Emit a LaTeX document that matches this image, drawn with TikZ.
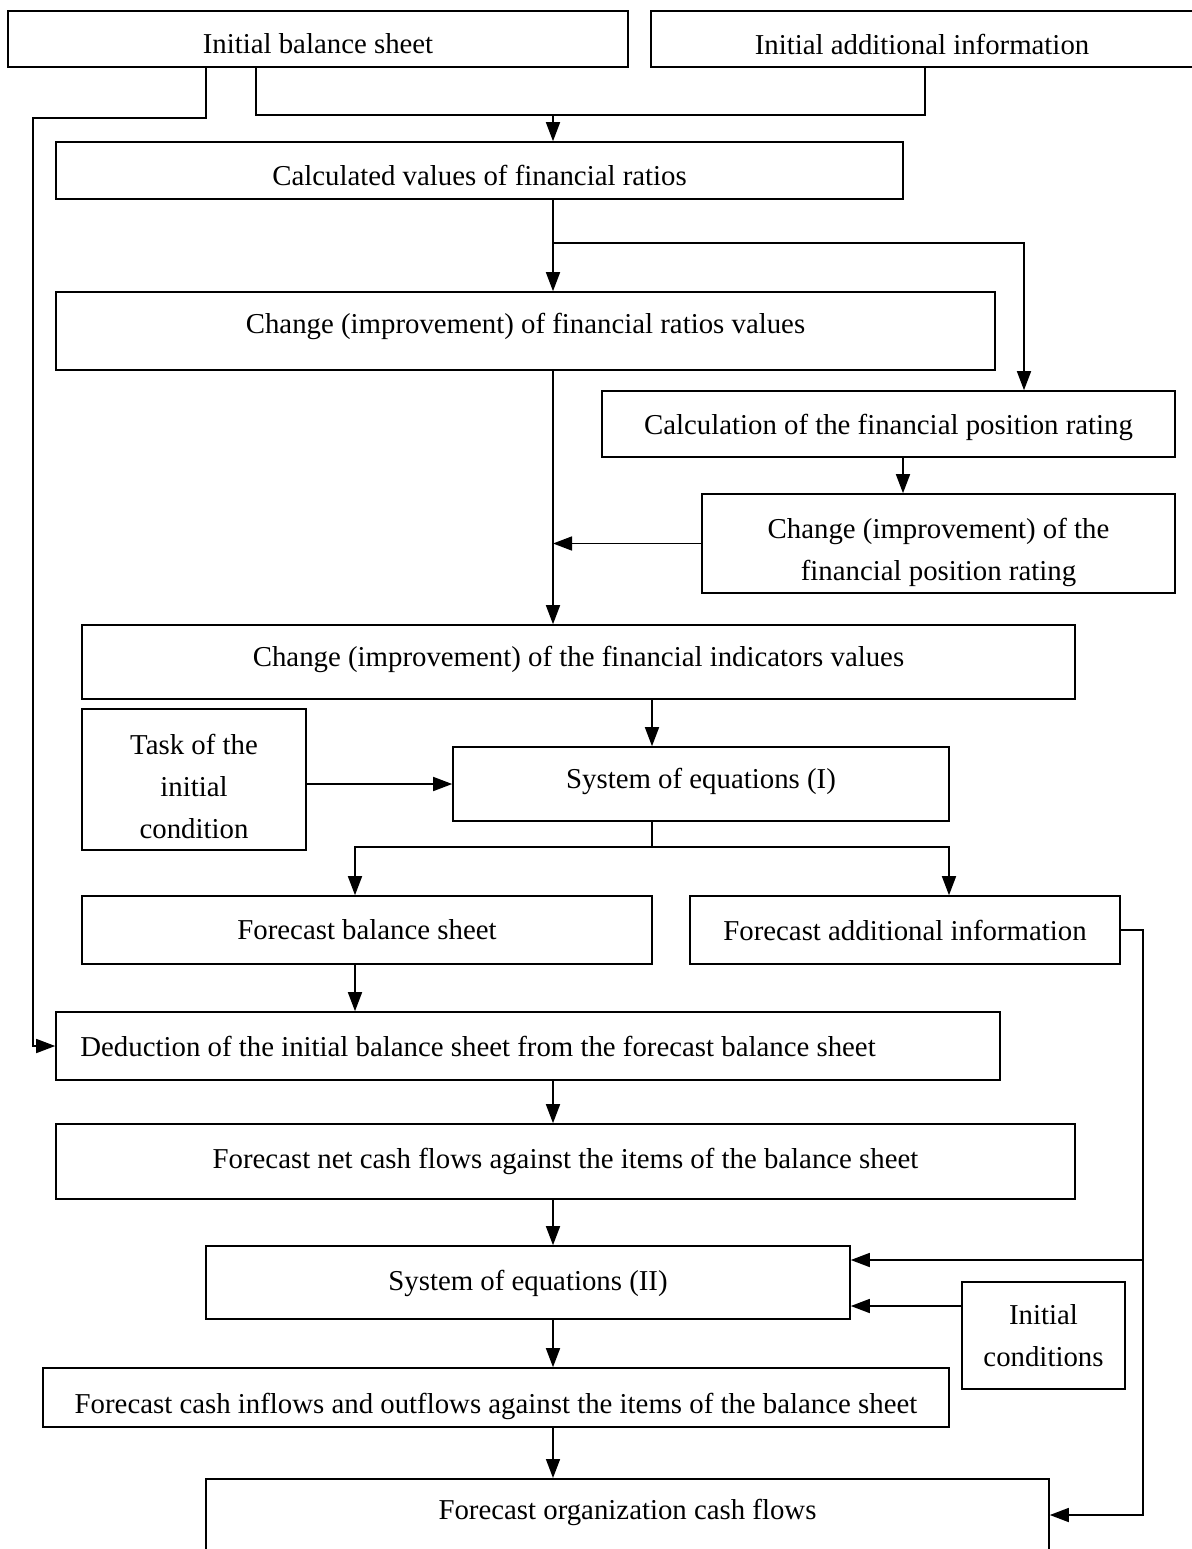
\documentclass[tikz,border=0pt]{standalone}
\usepackage{fontspec}
\setmainfont{Liberation Serif}
\usepackage{tikz}
\usetikzlibrary{arrows.meta}
\tikzset{
box/.style 2 args={draw, rectangle, inner sep=0pt, minimum width=#1*0.02cm, minimum height=#2*0.02cm},
txt/.style={align=center, inner sep=0pt},
>={Triangle[length=0.38cm, width=0.28cm]}
}

\begin{document}
\begin{tikzpicture}[x=0.02cm, y=-0.02cm, line width=0.9pt, font=\fontsize{16.4}{24}\selectfont]
\useasboundingbox (0,0) rectangle (1192,1549);

\node[box={620}{56}, label={[txt, yshift=-0.1cm]center:Initial balance sheet}] (ibs) at (318,39) {};
\node[box={542}{56}, label={[txt, yshift=-0.1cm]center:Initial additional information}] (iai) at (922,39) {};
\node[box={847}{57}, label={[txt, yshift=-0.1cm]center:Calculated values of financial ratios}] (calc) at (479.5,170.5) {};
\node[box={939}{78}, label={[txt, yshift=0.1cm]center:Change (improvement) of financial ratios values}] (chr) at (525.5,331) {};
\node[box={573}{66}, label={[txt, yshift=-0.06cm]center:Calculation of the financial position rating}] (rat) at (888.5,424) {};
\node[box={473}{99}, label={[txt, yshift=-0.18cm]center:Change (improvement) of the\\financial position rating}] (chrat) at (938.5,543.5) {};
\node[box={993}{74}, label={[txt, yshift=0.06cm]center:Change (improvement) of the financial indicators values}] (chi) at (578.5,662) {};
\node[box={224}{141}, label={[txt, yshift=-0.14cm]center:Task of the\\initial\\condition}] (task) at (194,779.5) {};
\node[box={496}{74}, label={[txt, yshift=0.06cm]center:System of equations (I)}] (sys1) at (701,784) {};
\node[box={570}{68}, label={[txt]center:Forecast balance sheet}] (fbs) at (367,930) {};
\node[box={430}{68}, label={[txt]center:Forecast additional information}] (fai) at (905,930) {};
\node[box={944}{68}, label={[txt, xshift=-1cm]center:Deduction of the initial balance sheet from the forecast balance sheet}] (ded) at (528,1046) {};
\node[box={1019}{75}, label={[txt]center:Forecast net cash flows against the items of the balance sheet}] (net) at (565.5,1161.5) {};
\node[box={644}{73}, label={[txt, yshift=-0.02cm]center:System of equations (II)}] (sys2) at (528,1282.5) {};
\node[box={163}{107}, label={[txt]center:Initial\\conditions}] (inc) at (1043.5,1335.5) {};
\node[box={906}{59}, label={[txt, yshift=-0.18cm]center:Forecast cash inflows and outflows against the items of the balance sheet}] (infl) at (496,1397.5) {};
\node[draw, inner sep=0pt, minimum width=843*0.02cm, text height=0.82cm, text depth=1.5cm, anchor=north] (org) at (627.5,1478) {Forecast organization cash flows};

\coordinate (j1) at (553,115);
\coordinate (j2) at (553,243);
\coordinate (j3) at (652,847);
\coordinate (j4) at (1143,1260);

\draw[->] (206,0 |- ibs.south) |- (33,118) |- (ded.west);
\draw (256,0 |- ibs.south) |- (925,115) -- (925,0 |- iai.south);
\draw[->] (j1) -- (553,0 |- calc.north);
\draw[->] (553,0 |- calc.south) -- (553,0 |- chr.north);
\draw[->] (j2) -| (1024,0 |- rat.north);
\draw[->] (553,0 |- chr.south) -- (553,0 |- chi.north);
\draw[->] (903,0 |- rat.south) -- (903,0 |- chrat.north);
\draw[->] (chrat.west) -- (553,0 |- chrat.west);
\draw[->] (652,0 |- chi.south) -- (652,0 |- sys1.north);
\draw[->] (task.east |- sys1.west) -- (sys1.west);
\draw (652,0 |- sys1.south) -- (j3);
\draw[->] (j3) -| (355,0 |- fbs.north);
\draw[->] (j3) -| (949,0 |- fai.north);
\draw[->] (355,0 |- fbs.south) -- (355,0 |- ded.north);
\draw[->] (553,0 |- ded.south) -- (553,0 |- net.north);
\draw[->] (553,0 |- net.south) -- (553,0 |- sys2.north);
\draw[->] (fai.east) -| (1143,1515) -- (org.north east |- 0,1515);
\draw[->] (j4) -- (sys2.east |- 0,1260);
\draw[->] (inc.west |- 0,1306) -- (sys2.east |- 0,1306);
\draw[->] (553,0 |- sys2.south) -- (553,0 |- infl.north);
\draw[->] (553,0 |- infl.south) -- (553,0 |- org.north);
\end{tikzpicture}
\end{document}
